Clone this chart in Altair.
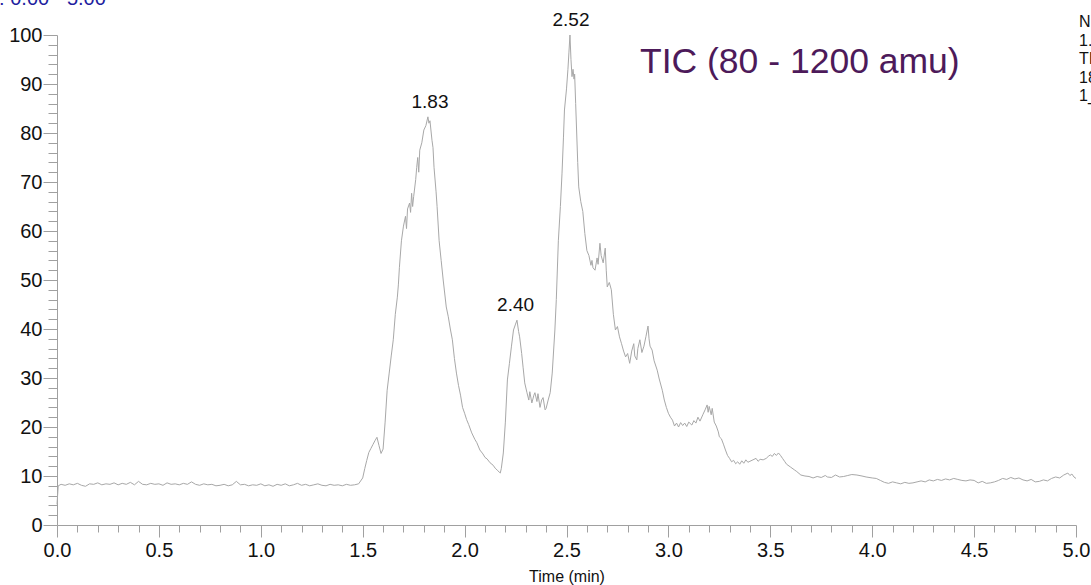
import altair as alt
import pandas as pd

# ---- chromatogram trace (time in min, relative abundance in %) ----
times = [
    0.000, 0.006, 0.02, 0.04, 0.06, 0.08, 0.10, 0.12, 0.14, 0.16, 0.18, 0.20, 0.22, 0.24, 0.26, 0.28,
    0.30, 0.32, 0.34, 0.36, 0.38, 0.40, 0.42, 0.44, 0.46, 0.48, 0.50, 0.52, 0.54, 0.56, 0.58, 0.60,
    0.62, 0.64, 0.66, 0.68, 0.70, 0.72, 0.74, 0.76, 0.78, 0.80, 0.82, 0.84, 0.86, 0.88, 0.90, 0.92,
    0.94, 0.96, 0.98, 1.00, 1.02, 1.04, 1.06, 1.08, 1.10, 1.12, 1.14, 1.16, 1.18, 1.20, 1.22, 1.24,
    1.26, 1.28, 1.30, 1.32, 1.34, 1.36, 1.38, 1.40, 1.42, 1.44, 1.46, 1.48,
    1.50, 1.51, 1.52, 1.53, 1.54, 1.55, 1.56, 1.57, 1.58, 1.59, 1.60, 1.61, 1.62, 1.63, 1.64, 1.65,
    1.66, 1.67, 1.675, 1.68, 1.69, 1.70, 1.71, 1.715, 1.72, 1.73, 1.735, 1.74, 1.745, 1.75, 1.76,
    1.765, 1.77, 1.775, 1.78, 1.79, 1.80, 1.81, 1.82, 1.825, 1.83, 1.84, 1.845, 1.85, 1.86, 1.865,
    1.875, 1.885, 1.895, 1.91, 1.92, 1.93, 1.94, 1.95, 1.96, 1.97, 1.98, 1.99, 2.00, 2.01, 2.02,
    2.035, 2.05, 2.06, 2.075, 2.09, 2.10, 2.11, 2.125, 2.14, 2.15, 2.16, 2.17, 2.175, 2.18, 2.19,
    2.20, 2.21, 2.22, 2.23, 2.24, 2.25, 2.257, 2.265, 2.27, 2.28, 2.287, 2.295, 2.306, 2.315, 2.32,
    2.33, 2.34, 2.345, 2.355, 2.36, 2.37, 2.378, 2.385, 2.395, 2.40, 2.41, 2.42, 2.43, 2.443, 2.45,
    2.46, 2.47, 2.478, 2.485, 2.49, 2.50, 2.507, 2.512, 2.517, 2.522, 2.527, 2.532, 2.537, 2.54,
    2.545, 2.55, 2.555, 2.56, 2.57, 2.58, 2.59, 2.60, 2.61, 2.62, 2.625, 2.63, 2.64, 2.65, 2.655,
    2.664, 2.67, 2.68, 2.69, 2.695, 2.70, 2.71, 2.72, 2.73, 2.74, 2.75, 2.76, 2.77, 2.78, 2.79, 2.80,
    2.81, 2.82, 2.83, 2.835, 2.845, 2.85, 2.86, 2.87, 2.88, 2.89, 2.90, 2.905, 2.91, 2.92, 2.93,
    2.945, 2.955, 2.97, 2.98, 2.99, 3.00, 3.01, 3.02, 3.03, 3.04, 3.05, 3.06, 3.07, 3.08, 3.09, 3.10,
    3.115, 3.125, 3.135, 3.145, 3.155, 3.17, 3.18, 3.19, 3.195, 3.20, 3.21, 3.215, 3.225, 3.235,
    3.245, 3.25, 3.26, 3.27, 3.28, 3.29, 3.30, 3.31, 3.32, 3.33, 3.34, 3.35, 3.36, 3.37, 3.38, 3.39,
    3.40, 3.415, 3.43, 3.44, 3.45, 3.465, 3.48, 3.49, 3.50, 3.51, 3.52, 3.53, 3.54, 3.55, 3.56, 3.57,
    3.58, 3.60, 3.62, 3.63, 3.65, 3.67, 3.69, 3.71, 3.73, 3.75, 3.77, 3.78, 3.80, 3.82, 3.84, 3.86,
    3.88, 3.90, 3.925, 3.95, 3.97, 4.00, 4.02, 4.04, 4.06, 4.08, 4.10, 4.12, 4.14, 4.16, 4.18, 4.20,
    4.22, 4.24, 4.26, 4.28, 4.30, 4.32, 4.34, 4.36, 4.38, 4.40, 4.42, 4.44, 4.46, 4.48, 4.50, 4.52,
    4.54, 4.56, 4.58, 4.60, 4.62, 4.64, 4.66, 4.68, 4.70, 4.72, 4.74, 4.76, 4.78, 4.80, 4.82, 4.84,
    4.86, 4.88, 4.90, 4.92, 4.94, 4.96, 4.97, 4.98, 4.99, 5.00,
]
intensity = [
    4.2, 8.0, 8.3, 8.1, 8.4, 8.2, 8.5, 8.1, 7.9, 8.4, 8.3, 8.6, 8.2, 8.4, 8.3, 8.6,
    8.2, 8.5, 8.3, 8.7, 8.2, 8.9, 8.3, 8.2, 8.5, 8.3, 8.4, 8.1, 8.6, 8.3, 8.4, 8.2,
    8.5, 8.3, 8.8, 8.3, 8.1, 8.4, 8.2, 8.3, 8.0, 8.1, 8.3, 8.0, 8.2, 8.9, 8.2, 8.3,
    8.0, 8.2, 8.1, 8.4, 8.0, 8.2, 7.9, 8.3, 8.1, 8.4, 8.0, 8.2, 8.5, 8.1, 8.3, 8.0,
    8.2, 8.4, 8.1, 8.0, 8.3, 8.1, 8.2, 8.0, 8.3, 8.1, 8.2, 8.4,
    9.6, 11.5, 13.2, 14.8, 15.6, 16.4, 17.2, 17.9, 16.2, 14.6, 15.5, 21.0, 27.5, 31.0, 34.5, 37.8,
    43.0, 46.5, 49.0, 52.5, 58.0, 61.0, 63.0, 60.5, 64.5, 65.7, 63.8, 67.7, 65.0, 67.0, 70.5,
    73.0, 75.0, 72.0, 76.5, 78.0, 80.6, 81.5, 83.3, 82.0, 82.5, 78.5, 77.0, 73.0, 68.0, 65.0,
    58.0, 54.0, 50.0, 44.5, 42.5, 40.0, 37.8, 34.0, 31.0, 28.5, 26.5, 24.0, 22.8, 21.5, 20.5,
    18.8, 17.5, 16.8, 15.3, 14.5, 13.8, 13.5, 12.7, 12.2, 11.6, 11.2, 10.8, 10.6, 11.5, 14.7,
    21.0, 29.6, 33.0, 36.5, 39.8, 41.0, 41.8, 39.5, 38.4, 35.0, 32.2, 29.0, 27.0, 25.5, 27.2,
    24.9, 26.5, 27.0, 25.2, 26.8, 24.0, 25.5, 26.0, 23.5, 23.8, 25.5, 27.0, 31.0, 39.8, 46.0,
    58.0, 65.0, 71.8, 79.0, 84.7, 89.0, 93.0, 96.5, 100.0, 95.0, 91.5, 93.0, 91.0, 92.0,
    86.0, 80.0, 74.0, 69.0, 66.0, 64.0, 59.5, 56.0, 55.0, 53.0, 54.0, 52.5, 52.0, 54.5, 53.2,
    57.5, 55.0, 53.5, 56.5, 52.0, 48.6, 49.5, 48.0, 43.0, 39.8, 40.5, 38.4, 37.0, 35.5, 34.3, 35.0,
    33.0, 35.5, 37.0, 34.5, 33.7, 36.0, 37.8, 35.2, 36.5, 38.5, 40.6, 38.0, 36.5, 35.7, 33.5,
    31.6, 29.8, 27.5, 25.5, 24.0, 22.8, 22.0, 21.4, 20.2, 20.8, 20.0, 20.9, 20.3, 20.8, 20.1, 21.0,
    20.4, 21.3, 20.8, 22.0, 21.2, 22.6, 23.5, 24.5, 23.0, 24.2, 22.5, 23.8, 21.0, 20.2,
    19.0, 18.0, 17.6, 16.5, 15.3, 14.2, 13.6, 12.9, 13.2, 12.5, 12.9, 12.4, 13.1, 12.6, 13.3, 12.8,
    13.0, 13.3, 13.6, 13.0, 13.4, 13.3, 13.6, 14.0, 14.3, 14.0, 14.6, 14.2, 14.7, 14.2, 13.6, 13.0,
    12.4, 11.8, 11.2, 10.9, 10.2, 10.0, 9.9, 9.6, 9.9, 9.7, 10.1, 9.8, 9.7, 10.2, 9.8, 9.9,
    10.1, 10.3, 10.2, 10.0, 9.8, 9.6, 9.5, 9.1, 8.7, 8.5, 8.8, 8.6, 8.4, 8.7, 8.5, 8.6,
    8.8, 9.0, 8.8, 9.2, 9.0, 9.3, 9.1, 9.4, 9.2, 9.5, 9.3, 9.1, 9.0, 9.2, 9.1, 8.6,
    8.9, 8.5, 8.6, 8.8, 9.1, 9.5, 9.3, 9.7, 9.4, 9.6, 9.2, 9.0, 9.3, 8.8, 8.9, 9.2,
    9.0, 9.5, 9.8, 9.6, 10.2, 10.6, 10.1, 10.4, 9.8, 9.5,
]

# ---- peak annotations ----
peak_times = [1.83, 2.25, 2.522]
peak_values = [83.3, 41.8, 100.0]
peak_labels = ["1.83", "2.40", "2.52"]

# ---- axis ticks ----
x_major = [0.0, 0.5, 1.0, 1.5, 2.0, 2.5, 3.0, 3.5, 4.0, 4.5, 5.0]
x_minor = [0.1, 0.2, 0.3, 0.4, 0.6, 0.7, 0.8, 0.9, 1.1, 1.2, 1.3, 1.4, 1.6, 1.7, 1.8, 1.9,
           2.1, 2.2, 2.3, 2.4, 2.6, 2.7, 2.8, 2.9, 3.1, 3.2, 3.3, 3.4, 3.6, 3.7, 3.8, 3.9,
           4.1, 4.2, 4.3, 4.4, 4.6, 4.7, 4.8, 4.9]
y_major = [0, 10, 20, 30, 40, 50, 60, 70, 80, 90, 100]
y_minor = [2, 4, 6, 8, 12, 14, 16, 18, 22, 24, 26, 28, 32, 34, 36, 38, 42, 44, 46, 48,
           52, 54, 56, 58, 62, 64, 66, 68, 72, 74, 76, 78, 82, 84, 86, 88, 92, 94, 96, 98]

# ---- texts ----
trace_title = "TIC (80 - 1200 amu)"
range_text = "RT: 0.00 - 5.00"
info_lines = ["NL:", "1.45E9", "TIC MS", "180524_01", "1_TIC"]

FONT = "Liberation Sans"
GREY = "#a0a0a0"

df = pd.DataFrame({"time": times, "rel": intensity})
peaks = pd.DataFrame({"time": peak_times, "rel": peak_values, "label": peak_labels})

xs = alt.Scale(domain=[0, 5], nice=False, zero=False)
ys = alt.Scale(domain=[0, 100], nice=False)

line = alt.Chart(df).mark_line(color="#a8a8a8", strokeWidth=1).encode(
    x=alt.X("time:Q", scale=xs, axis=alt.Axis(
        values=x_major, format=".1f", tickSize=12, orient="bottom", grid=False,
        title="Time (min)", labelFlush=False, labelPadding=3, titlePadding=8)),
    y=alt.Y("rel:Q", scale=ys, axis=alt.Axis(
        values=y_major, format="d", tickSize=14, orient="left", grid=False,
        title=None, labelFlush=False, labelPadding=1)),
)

labels = alt.Chart(peaks).mark_text(
    baseline="bottom", dy=-5, fontSize=19, font=FONT, color="#111111"
).encode(
    x=alt.X("time:Q", scale=xs, axis=alt.Axis(
        values=x_minor, tickSize=7, labels=False, domain=False, orient="bottom",
        grid=False, title=None)),
    y=alt.Y("rel:Q", scale=ys, axis=alt.Axis(
        values=y_minor, tickSize=9, labels=False, domain=False, orient="left",
        grid=False, title=None)),
    text="label:N",
)

title_txt = alt.Chart(pd.DataFrame({"t": [trace_title]})).mark_text(
    align="left", baseline="alphabetic", fontSize=35.5, font=FONT, color="#4d1a5a"
).encode(x=alt.value(583), y=alt.value(38), text="t:N")

range_txt = alt.Chart(pd.DataFrame({"t": [range_text]})).mark_text(
    align="left", baseline="alphabetic", fontSize=20, font=FONT, color="#1f1fa0"
).encode(x=alt.value(-82), y=alt.value(-30), text="t:N")

info_txt = alt.Chart(pd.DataFrame({"t": [0]})).mark_text(
    align="left", baseline="alphabetic", fontSize=16, font=FONT, color="#111111",
    text=info_lines, lineHeight=18.5
).encode(x=alt.value(1022), y=alt.value(-8))

chart = alt.layer(line, labels, title_txt, range_txt, info_txt).resolve_axis(
    x="independent", y="independent"
).properties(
    width=1019, height=490, autosize="none",
    padding={"left": 57, "top": 35, "right": 15, "bottom": 60},
).configure_view(stroke=None).configure_axis(
    domainColor=GREY, tickColor=GREY, domainWidth=1, tickWidth=1,
    labelColor="#111111", labelFont=FONT, labelFontSize=20,
    titleFont=FONT, titleFontSize=16, titleFontWeight="normal", titleColor="#111111",
)

chart.save("out.html", embed_options={"renderer": "svg", "actions": False})
